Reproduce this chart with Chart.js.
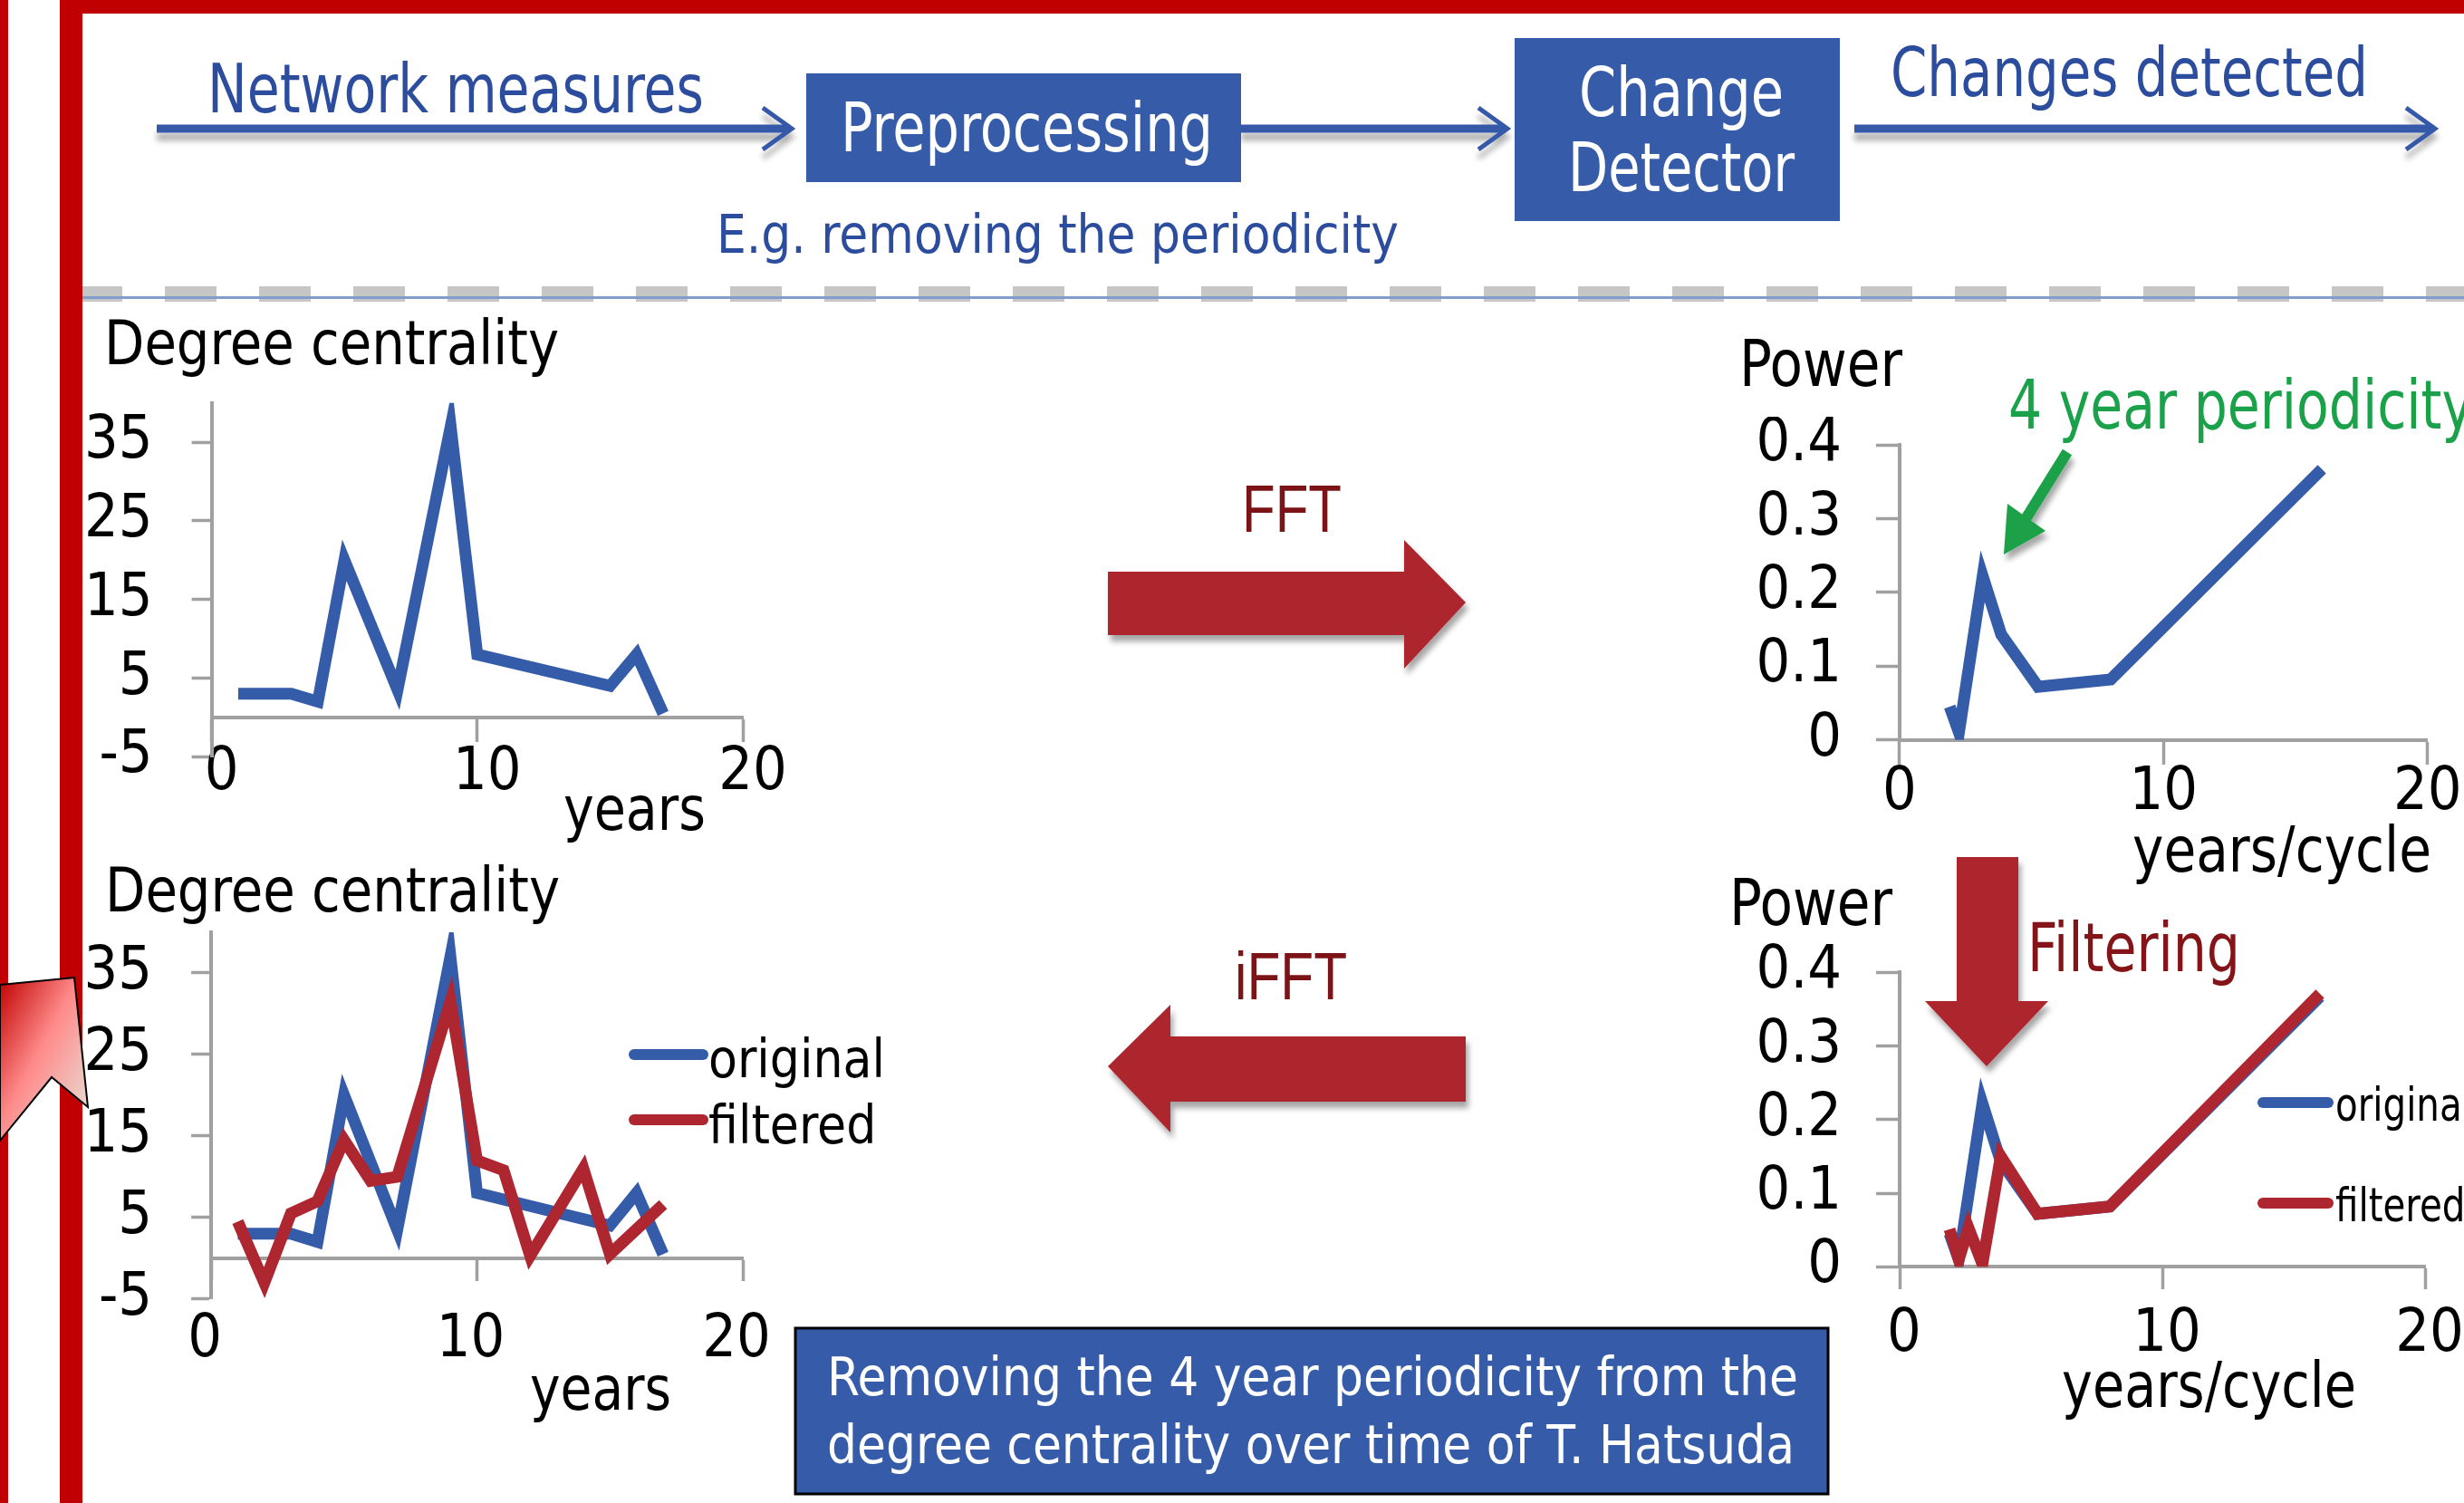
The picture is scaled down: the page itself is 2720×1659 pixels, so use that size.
<!DOCTYPE html>
<html>
<head>
<meta charset="utf-8">
<script src="https://cdn.jsdelivr.net/npm/chart.js@4.4.1/dist/chart.umd.min.js"></script>
<style>
html, body { margin: 0; padding: 0; background: #fff; }
#page { position: relative; width: 2720px; height: 1659px; overflow: hidden; background: #fff; }
#page canvas { position: absolute; }
#deco { position: absolute; left: 0; top: 0; pointer-events: none; }
#deco text { font-family: "DejaVu Sans Condensed", "DejaVu Sans", sans-serif; }
</style>
</head>
<body>
<div id="page">
  <canvas id="degreeTop" width="850" height="480" style="left:70px;top:420px"></canvas>
  <canvas id="degreeBottom" width="930" height="560" style="left:70px;top:1000px"></canvas>
  <canvas id="powerTop" width="820" height="480" style="left:1900px;top:460px"></canvas>
  <canvas id="powerBottom" width="820" height="480" style="left:1900px;top:1040px"></canvas>

  <svg id="deco" width="2720" height="1659" xmlns="http://www.w3.org/2000/svg">
    <defs>
      <filter id="shadow" x="-20%" y="-30%" width="140%" height="180%">
        <feDropShadow dx="3" dy="7" stdDeviation="3" flood-color="#000" flood-opacity="0.35"/>
      </filter>
      <filter id="lineShadow" x="-5%" y="-200%" width="110%" height="600%">
        <feDropShadow dx="0" dy="9" stdDeviation="3" flood-color="#000" flood-opacity="0.3"/>
      </filter>
      <linearGradient id="pink" x1="0" y1="0" x2="1" y2="1">
        <stop offset="0" stop-color="#c00000"/>
        <stop offset="0.45" stop-color="#ff8a8a"/>
        <stop offset="1" stop-color="#e4eadf"/>
      </linearGradient>
    </defs>

    <!-- separator -->
    <g id="dashes"></g>
    <rect x="91" y="327" width="2629" height="3" fill="#7f9fca"/>

    <!-- slide frame -->
    <rect x="0" y="0" width="9" height="1659" fill="#c00000"/>
    <rect x="66" y="0" width="25" height="1659" fill="#c00000"/>
    <rect x="66" y="0" width="2654" height="15" fill="#c00000"/>
    <polygon points="0,1087 82,1079 97,1222 57,1189 0,1259" fill="url(#pink)" stroke="#000" stroke-width="2"/>

    <!-- flow diagram -->
    <g filter="url(#lineShadow)" stroke="#3659a8" fill="none">
      <line x1="173" y1="142" x2="872" y2="142" stroke-width="9"/>
      <polyline points="842,119 874,142 842,165" stroke-width="5"/>
      <line x1="1370" y1="142" x2="1661" y2="142" stroke-width="9"/>
      <polyline points="1632,119 1664,142 1632,165" stroke-width="5"/>
      <line x1="2047" y1="142" x2="2685" y2="142" stroke-width="9"/>
      <polyline points="2656,119 2688,142 2656,165" stroke-width="5"/>
    </g>
    <rect x="890" y="81" width="480" height="120" fill="#365ca9"/>
    <rect x="1672" y="42" width="359" height="202" fill="#365ca9"/>

    <text x="229" y="124" font-size="74" fill="#2c4d9e" textLength="548" lengthAdjust="spacingAndGlyphs">Network measures</text>
    <text x="928" y="167" font-size="74" fill="#ffffff" textLength="411" lengthAdjust="spacingAndGlyphs">Preprocessing</text>
    <text x="1743" y="128" font-size="74" fill="#ffffff" textLength="226" lengthAdjust="spacingAndGlyphs">Change</text>
    <text x="1731" y="211" font-size="74" fill="#ffffff" textLength="250" lengthAdjust="spacingAndGlyphs">Detector</text>
    <text x="2087" y="106" font-size="74" fill="#2c4d9e" textLength="527" lengthAdjust="spacingAndGlyphs">Changes detected</text>
    <text x="791" y="279" font-size="58" fill="#2c4d9e" textLength="753" lengthAdjust="spacingAndGlyphs">E.g. removing the periodicity</text>

    <!-- chart titles -->
    <text x="115" y="402" font-size="68" fill="#000" textLength="502" lengthAdjust="spacingAndGlyphs">Degree centrality</text>
    <text x="116" y="1006" font-size="68" fill="#000" textLength="502" lengthAdjust="spacingAndGlyphs">Degree centrality</text>
    <text x="622" y="916" font-size="68" fill="#000" textLength="157" lengthAdjust="spacingAndGlyphs">years</text>
    <text x="585" y="1556" font-size="68" fill="#000" textLength="156" lengthAdjust="spacingAndGlyphs">years</text>
    <text x="1920" y="426" font-size="71" fill="#000" textLength="180" lengthAdjust="spacingAndGlyphs">Power</text>
    <text x="1909" y="1021" font-size="71" fill="#000" textLength="180" lengthAdjust="spacingAndGlyphs">Power</text>
    <text x="2354" y="962" font-size="70" fill="#000" textLength="330" lengthAdjust="spacingAndGlyphs">years/cycle</text>
    <text x="2276" y="1553" font-size="70" fill="#000" textLength="325" lengthAdjust="spacingAndGlyphs">years/cycle</text>

    <!-- FFT / iFFT arrows -->
    <polygon points="1223,631 1550,631 1550,596 1618,665 1550,738 1550,701 1223,701" fill="#ad252e" filter="url(#shadow)"/>
    <text x="1371" y="587" font-size="75" fill="#7c1417" style="font-family:'Liberation Sans',sans-serif" textLength="110" lengthAdjust="spacingAndGlyphs">FFT</text>
    <polygon points="1618,1144 1292,1144 1292,1109 1223,1177 1292,1250 1292,1216 1618,1216" fill="#ad252e" filter="url(#shadow)"/>
    <text x="1363" y="1103" font-size="75" fill="#7c1417" style="font-family:'Liberation Sans',sans-serif" textLength="124" lengthAdjust="spacingAndGlyphs">iFFT</text>

    <!-- annotations on the power charts -->
    <text x="2217" y="473" font-size="75" fill="#1aa14a" textLength="513" lengthAdjust="spacingAndGlyphs">4 year periodicity</text>
    <g filter="url(#shadow)" fill="#1aa14a">
      <line x1="2282" y1="499" x2="2236" y2="573" stroke="#1aa14a" stroke-width="12"/>
      <polygon points="2212,612 2216,556 2258,586"/>
    </g>
    <polygon points="2160,946 2228,946 2228,1105 2261,1105 2193,1177 2125,1105 2160,1105" fill="#ad252e" filter="url(#shadow)"/>
    <text x="2238" y="1072" font-size="75" fill="#841418" textLength="235" lengthAdjust="spacingAndGlyphs">Filtering</text>

    <!-- caption -->
    <rect x="878" y="1466" width="1140" height="183" fill="#365ca9" stroke="#000" stroke-width="3"/>
    <text x="913" y="1540" font-size="58" fill="#ffffff" textLength="1072" lengthAdjust="spacingAndGlyphs">Removing the 4 year periodicity from the</text>
    <text x="913" y="1615" font-size="58" fill="#ffffff" textLength="1068" lengthAdjust="spacingAndGlyphs">degree centrality over time of T. Hatsuda</text>
  </svg>
</div>

<script>
// values
const yearsOriginal = [1, 3, 4, 5, 7, 9, 10, 15, 16, 17];
const degreeOriginal = [3, 3, 2, 20, 3.5, 37, 8, 4, 8, 0.5];
const yearsFiltered = [1, 2, 3, 4, 5, 6, 7, 9, 10, 11, 12, 14, 15, 17];
const degreeFiltered = [4.5, -3, 5.5, 7, 14.5, 9.5, 10, 31.5, 12, 10.8, 0.3, 11, 0.5, 6.6];

const periodOriginal = [1.9, 2.25, 3.15, 3.85, 5.25, 8, 16];
const powerOriginal = [0.045, 0.01, 0.222, 0.143, 0.072, 0.082, 0.367];
const periodFiltered = [1.9, 2.25, 2.62, 3.15, 3.85, 5.25, 8, 16];
const powerFiltered = [0.051, 0.01, 0.053, 0.004, 0.15, 0.072, 0.082, 0.371];

const degreeTicks = [-5, 5, 15, 25, 35];
const powerTicks = [0, 0.1, 0.2, 0.3, 0.4];
const xTicks = [0, 10, 20];

const BLUE = '#355ca8';
const RED = '#ae262f';
const AXIS = '#a0a0a0';
const TICK_FONT = { family: "'DejaVu Sans Condensed', sans-serif", size: 66 };

// dashed separator
(function () {
  const g = document.getElementById('dashes');
  let s = '';
  for (let x = 78; x < 2720; x += 104) {
    s += '<rect x="' + x + '" y="316" width="57" height="17" fill="#c6c6c6"/>';
  }
  g.innerHTML = s;
})();

function pts(xs, ys) {
  return xs.map((x, i) => ({ x: x, y: ys[i] }));
}

function lineSet(label, xs, ys, color, order) {
  return {
    label: label,
    data: pts(xs, ys),
    showLine: true,
    borderColor: color,
    backgroundColor: color,
    borderWidth: 13,
    pointRadius: 0,
    pointHoverRadius: 0,
    tension: 0,
    borderJoinStyle: 'miter',
    order: order
  };
}

// small legend drawn inside the canvas
const inlineLegend = {
  id: 'inlineLegend',
  afterDraw(chart, args, opts) {
    if (!opts || !opts.rows) return;
    const ctx = chart.ctx;
    chart.data.datasets.forEach((ds, i) => {
      const r = opts.rows[i];
      ctx.save();
      ctx.strokeStyle = ds.borderColor;
      ctx.lineWidth = 12;
      ctx.lineCap = 'round';
      ctx.beginPath();
      ctx.moveTo(opts.x0, r.line);
      ctx.lineTo(opts.x1, r.line);
      ctx.stroke();
      ctx.fillStyle = '#000';
      ctx.font = opts.font;
      ctx.textBaseline = 'alphabetic';
      ctx.translate(opts.tx, r.base);
      ctx.scale(opts.sx || 1, 1);
      ctx.fillText(ds.label, 0, 0);
      ctx.restore();
    });
  }
};

function yAxis(ticks, min, max, width, tickLen, pad) {
  return {
    type: 'linear',
    min: min,
    max: max,
    afterBuildTicks: s => { s.ticks = ticks.map(v => ({ value: v })); },
    afterFit: s => { s.width = width; s.paddingTop = 0; s.paddingBottom = 0; },
    grid: { drawOnChartArea: false, tickLength: tickLen, tickColor: AXIS, tickWidth: 3.5 },
    border: { color: AXIS, width: 4 },
    ticks: { padding: pad, color: '#000', font: TICK_FONT, autoSkip: false, callback: v => String(v) }
  };
}

function xAxis(tickLen, pad, offset) {
  return {
    type: 'linear',
    min: 0,
    max: 20,
    position: { y: 0 },
    afterBuildTicks: s => { s.ticks = xTicks.map(v => ({ value: v })); },
    afterFit: s => { s.paddingLeft = 0; s.paddingRight = 0; },
    grid: { drawOnChartArea: false, tickLength: tickLen, tickColor: AXIS, tickWidth: 3.5 },
    border: { color: AXIS, width: 4 },
    ticks: { padding: pad, labelOffset: offset, color: '#000', font: TICK_FONT,
             autoSkip: false, maxRotation: 0, callback: v => String(v) }
  };
}

function makeChart(id, datasets, y, x, padding, legend) {
  new Chart(document.getElementById(id), {
    type: 'scatter',
    data: { datasets: datasets },
    options: {
      responsive: false,
      animation: false,
      events: [],
      layout: { autoPadding: false, padding: padding },
      scales: { x: x, y: y },
      plugins: {
        legend: { display: false },
        tooltip: { enabled: false },
        inlineLegend: legend || {}
      }
    },
    plugins: [inlineLegend]
  });
}

makeChart('degreeTop',
  [lineSet('original', yearsOriginal, degreeOriginal, BLUE, 1)],
  yAxis(degreeTicks, -5, 40, 163.6, 22, 43),
  xAxis(25, -3, 11),
  { left: 0, top: 24.8, right: 100, bottom: 64.8 });

makeChart('degreeBottom',
  [lineSet('original', yearsOriginal, degreeOriginal, BLUE, 1),
   lineSet('filtered', yearsFiltered, degreeFiltered, RED, 0)],
  yAxis(degreeTicks, -5, 40, 163.1, 22, 43),
  xAxis(23, 28, -7),
  { left: 0, top: 28.9, right: 180, bottom: 126.2 },
  { x0: 630, x1: 706, tx: 712, font: "58px 'DejaVu Sans Condensed'",
    rows: [{ line: 164, base: 189 }, { line: 236, base: 262 }] });

makeChart('powerTop',
  [lineSet('original', periodOriginal, powerOriginal, BLUE, 1)],
  yAxis(powerTicks, 0, 0.4, 196.9, 26, 38),
  xAxis(25, -5, 0),
  { left: 0, top: 31, right: 40.3, bottom: 123.3 });

makeChart('powerBottom',
  [lineSet('original', periodOriginal, powerOriginal, BLUE, 1),
   lineSet('filtered', periodFiltered, powerFiltered, RED, 0)],
  yAxis(powerTicks, 0, 0.4, 197, 26, 38),
  xAxis(23, 13, 5),
  { left: 0, top: 33.3, right: 43, bottom: 121.7 },
  { x0: 598, x1: 670, tx: 678, sx: 0.88, font: "51px 'DejaVu Sans Condensed'",
    rows: [{ line: 177, base: 197 }, { line: 288, base: 308 }] });
</script>
</body>
</html>
